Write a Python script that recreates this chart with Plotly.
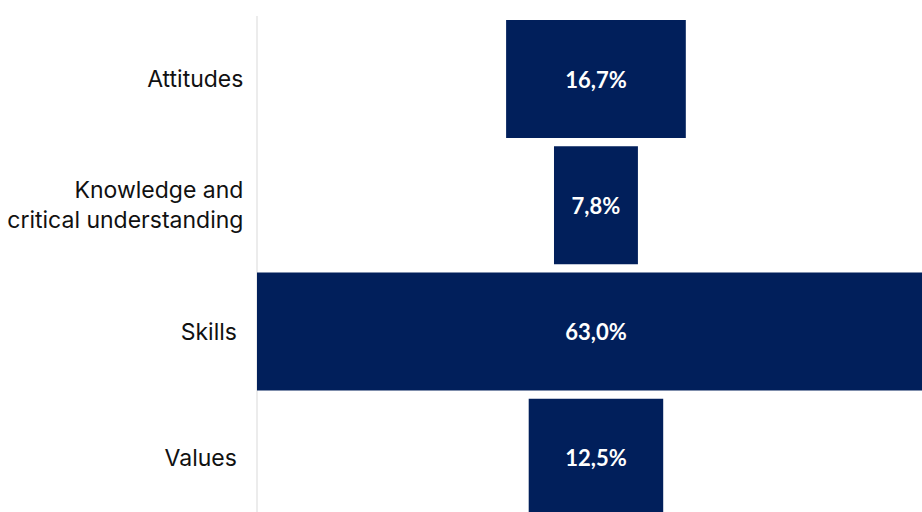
import plotly.graph_objects as go

categories = ["Attitudes", "Knowledge and<br>critical understanding", "Skills\u00a0", "Values\u00a0"]
values = [16.7, 7.8, 63.0, 12.5]

fig = go.Figure(go.Funnel(
    y=categories,
    x=values,
    texttemplate="%{x:.1f}%",
    textposition="inside",
    insidetextanchor="middle",
    textfont=dict(family="Lato", size=22, color="white", weight="bold"),
    marker=dict(color="#011F5B", line=dict(width=0)),
    connector=dict(visible=False),
    hoverinfo="skip",
))

fig.update_layout(
    width=922, height=512,
    margin=dict(l=257, r=0, t=16, b=0, autoexpand=False),
    paper_bgcolor="white", plot_bgcolor="white",
    separators=",.",
    funnelgap=0.065,
    showlegend=False,
    font=dict(family="Inter", size=23, color="#111111"),
    xaxis=dict(visible=False, range=[-31.5, 30.3], automargin=False),
    yaxis=dict(range=[3.43, -0.5], showgrid=False, zeroline=False, showline=False,
               automargin=False,
               ticks="outside", ticklen=8, tickcolor="rgba(0,0,0,0)",
               tickfont=dict(family="Inter", size=23, color="#111111")),
    shapes=[dict(type="line", xref="paper", yref="paper", x0=0, x1=0, y0=0, y1=1,
                 line=dict(color="#d9d9d9", width=1), layer="below")],
)

fig.write_html("out.html", config={"displayModeBar": False},
               post_script="document.body.style.margin='0';")
